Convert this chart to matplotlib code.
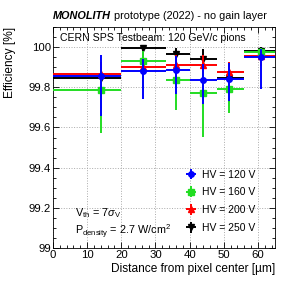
import matplotlib
matplotlib.use('Agg')
import matplotlib.pyplot as plt
from matplotlib.ticker import MultipleLocator

plt.rcParams['font.family'] = ['Liberation Sans', 'DejaVu Sans']
plt.rcParams['mathtext.fontset'] = 'custom'
plt.rcParams['mathtext.rm'] = 'Liberation Sans'
plt.rcParams['mathtext.it'] = 'Liberation Sans:italic'

# bin centres and edges (um)
x = [14, 26.5, 36, 44, 51.5, 61]
x_lo = [0, 20, 33, 40, 48, 56]
x_hi = [20, 33, 40, 48, 56, 66]

labels = ['HV = 120 V', 'HV = 160 V', 'HV = 200 V', 'HV = 250 V']

eff_120 = [99.856, 99.882, 99.886, 99.836, 99.840, 99.949]
lo_120 = [0.200, 0.140, 0.120, 0.120, 0.110, 0.155]
hi_120 = [0.104, 0.060, 0.070, 0.080, 0.080, 0.040]

eff_160 = [99.786, 99.932, 99.836, 99.773, 99.794, 99.977]
lo_160 = [0.212, 0.146, 0.149, 0.219, 0.124, 0.050]
hi_160 = [0.100, 0.050, 0.070, 0.100, 0.080, 0.020]

eff_200 = [99.865, 99.902, 99.910, 99.910, 99.877, 99.957]
lo_200 = [0.100, 0.080, 0.080, 0.080, 0.080, 0.050]
hi_200 = [0.060, 0.050, 0.050, 0.050, 0.050, 0.030]

eff_250 = [99.848, 99.998, 99.965, 99.940, 99.844, 99.982]
lo_250 = [0.150, 0.120, 0.120, 0.100, 0.116, 0.060]
hi_250 = [0.080, 0.002, 0.030, 0.050, 0.078, 0.018]

series = [
    (eff_120, lo_120, hi_120, '#0000ff', 'o'),
    (eff_160, lo_160, hi_160, '#22dd22', 's'),
    (eff_200, lo_200, hi_200, '#ff0000', '^'),
    (eff_250, lo_250, hi_250, '#000000', 'v'),
]

fig = plt.figure(figsize=(2.99, 2.88), dpi=100)
ax = fig.add_axes([0.177, 0.139, 0.743, 0.767])

xerr = [[c - l for c, l in zip(x, x_lo)], [h - c for c, h in zip(x, x_hi)]]
handles = []
for i, ((eff, lo, hi, col, mk), lab) in enumerate(zip(series, labels)):
    h = ax.errorbar(x, eff, xerr=xerr, yerr=[lo, hi], fmt=mk, color=col,
                    ms=4, elinewidth=1.4, capsize=0, label=lab, zorder=10 - i)
    handles.append(h)

ax.set_xlim(0, 65)
ax.set_ylim(99, 100.1)
ax.xaxis.set_major_locator(MultipleLocator(10))
ax.xaxis.set_minor_locator(MultipleLocator(2))
ax.yaxis.set_minor_locator(MultipleLocator(0.05))
ax.set_yticks([99, 99.2, 99.4, 99.6, 99.8, 100])
ax.set_yticklabels(['99', '99.2', '99.4', '99.6', '99.8', '100'])
ax.tick_params(which='both', direction='in', top=True, right=True, labelsize=8.2, pad=1.5)
ax.tick_params(which='major', length=4, width=0.6)
ax.tick_params(which='minor', length=2, width=0.6)
ax.grid(True, which='major', linestyle=':', color='#aaaaaa', linewidth=0.7)
ax.set_axisbelow(True)
for s in ax.spines.values():
    s.set_linewidth(0.6)

ax.set_xlabel('Distance from pixel center [µm]', fontsize=8.6, loc='right', labelpad=2)
ax.set_ylabel('Efficiency [%]', fontsize=8.6, loc='top')
ax.yaxis.set_label_coords(-0.165, 1.0)

t1 = fig.text(0.177, 0.935, 'MONOLITH', fontsize=7.8, fontweight='bold',
              fontstyle='italic', ha='left', va='baseline')
ax.annotate(' prototype (2022) - no gain layer', xy=(1, 0), xycoords=t1,
            fontsize=7.8, ha='left', va='bottom')
ax.text(0.03, 0.975, 'CERN SPS Testbeam: 120 GeV/c pions', transform=ax.transAxes,
        ha='left', va='top', fontsize=7.6)
ax.text(0.1, 0.158, r'V$_{\mathrm{th}}$ = 7$\sigma_{\mathrm{V}}$', transform=ax.transAxes,
        fontsize=7.8, va='center')
ax.text(0.1, 0.072, r'P$_{\mathrm{density}}$ = 2.7 W/cm$^{2}$', transform=ax.transAxes,
        fontsize=7.8, va='center')

ax.legend(handles=handles, loc='lower left', bbox_to_anchor=(0.55, 0.035), frameon=False,
          fontsize=7.5, handlelength=1.6, handletextpad=0.3, labelspacing=0.75, borderpad=0.2)

fig.savefig('out.png', dpi=100)
